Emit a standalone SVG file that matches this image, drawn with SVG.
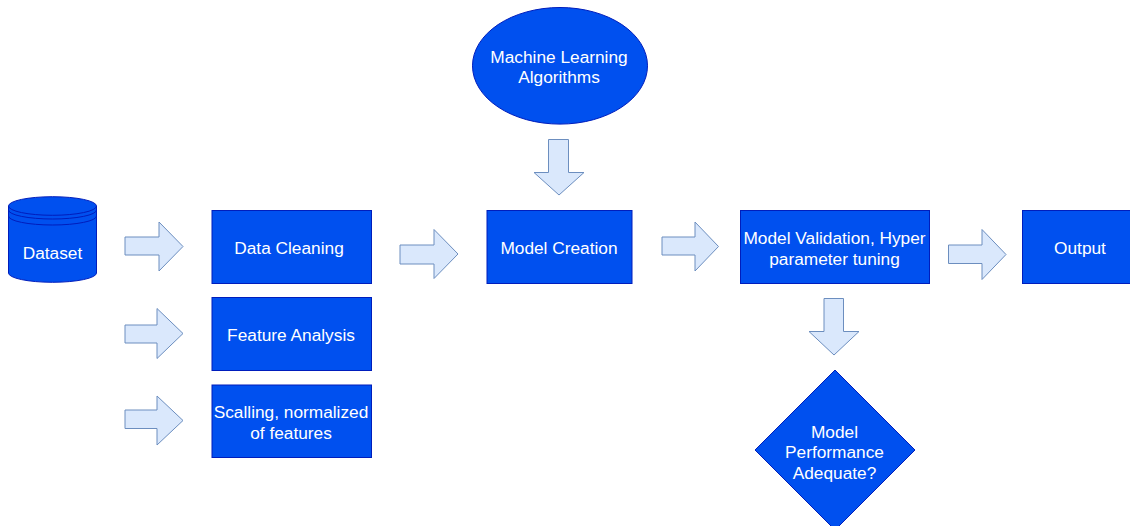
<svg xmlns="http://www.w3.org/2000/svg" width="1130" height="526" viewBox="0 0 1130 526">
  <style>
    .node { fill: #0050ef; stroke: #001dbc; stroke-width: 1; }
    .arrow { fill: #dae8fc; stroke: #6c8ebf; stroke-width: 1; stroke-linejoin: miter; }
    .label { font-family: "Liberation Sans", Arial, Helvetica, sans-serif; font-size: 17.3px; fill: #ffffff; text-anchor: middle; }
  </style>
  <rect width="1130" height="526" fill="#ffffff"/>

  <!-- block arrows between the steps -->
  <g id="connectors">
    <path class="arrow" d="M125,237 H159 V222 L183,246.5 L159,271 V255 H125 Z"/>
    <path class="arrow" d="M125,325 H157 V308.5 L183,333.5 L157,358.5 V343 H125 Z"/>
    <path class="arrow" d="M125,410 H157 V396 L183,420.5 L157,445 V428.5 H125 Z"/>
    <path class="arrow" d="M400,245 H434 V229.5 L458,254 L434,278.5 V264 H400 Z"/>
    <path class="arrow" d="M548.5,139.5 H568.5 V172.5 H584 L559,195 L534,172.5 H548.5 Z"/>
    <path class="arrow" d="M662,237 H695 V222 L718.5,246.5 L695,271 V255 H662 Z"/>
    <path class="arrow" d="M948.5,245 H982 V229.5 L1006,254.5 L982,279.5 V263.5 H948.5 Z"/>
    <path class="arrow" d="M824,298.5 H843.5 V331.5 H859 L834,355 L809,331.5 H824 Z"/>
  </g>

  <g id="dataset">
    <path class="node" d="M8.5,206 A44,9.3 0 0 1 96.5,206 V273 A44,9.3 0 0 1 8.5,273 Z"/>
    <path fill="none" stroke="#001dbc" d="M8.5,206 A44,9.3 0 0 0 96.5,206"/>
    <path fill="none" stroke="#001dbc" d="M8.5,210 A44,9 0 0 0 96.5,210"/>
    <path fill="none" stroke="#001dbc" d="M8.5,216 A44,9 0 0 0 96.5,216"/>
    <text class="label" x="52.5" y="259">Dataset</text>
  </g>

  <g id="data-cleaning">
    <rect class="node" x="212" y="210.5" width="159.5" height="73"/>
    <text class="label" x="289" y="254">Data Cleaning</text>
  </g>

  <g id="feature-analysis">
    <rect class="node" x="212" y="297.5" width="159.5" height="73"/>
    <text class="label" x="291" y="341">Feature Analysis</text>
  </g>

  <g id="scaling">
    <rect class="node" x="212" y="385" width="159.5" height="72.5"/>
    <text class="label" x="291" y="417.5">Scalling, normalized</text>
    <text class="label" x="291" y="438.5">of features</text>
  </g>

  <g id="ml-algorithms">
    <ellipse class="node" cx="560" cy="65.8" rx="87.5" ry="58.3"/>
    <text class="label" x="559" y="63">Machine Learning</text>
    <text class="label" x="559" y="83">Algorithms</text>
  </g>

  <g id="model-creation">
    <rect class="node" x="487" y="210.5" width="145" height="73"/>
    <text class="label" x="559" y="254">Model Creation</text>
  </g>

  <g id="model-validation">
    <rect class="node" x="740.5" y="210.5" width="189" height="73"/>
    <text class="label" x="834.5" y="244">Model Validation, Hyper</text>
    <text class="label" x="834.5" y="265">parameter tuning</text>
  </g>

  <g id="performance-check">
    <path class="node" d="M835,370 L915,450 L835,530 L755,450 Z"/>
    <text class="label" x="834.5" y="437.5">Model</text>
    <text class="label" x="834.5" y="458">Performance</text>
    <text class="label" x="834.5" y="478.5">Adequate?</text>
  </g>

  <g id="output">
    <rect class="node" x="1022.5" y="210.5" width="115" height="73"/>
    <text class="label" x="1080" y="254">Output</text>
  </g>
</svg>
